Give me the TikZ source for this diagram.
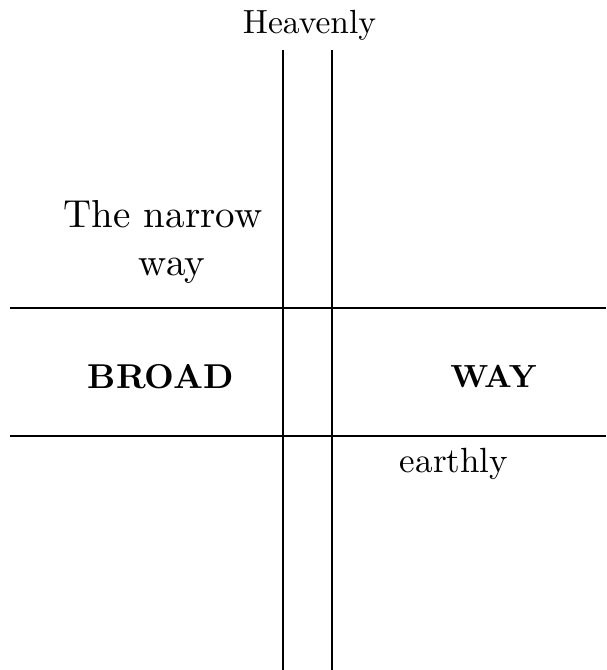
\documentclass[tikz,border=0pt]{standalone}
\usepackage{fontspec}
\setmainfont{lmroman10-regular.otf}[BoldFont=lmroman10-bold.otf]
\begin{document}
\begin{tikzpicture}[x=1pt,y=1pt,
  rule/.style={line width=2pt,black},
  lbl/.style={inner sep=0pt,anchor=base,font=\fontsize{#1}{#1}\selectfont},
  boldlbl/.style={inner sep=0pt,anchor=base,font=\fontsize{#1}{#1}\selectfont\bfseries}]
\useasboundingbox (0,0) rectangle (606,-670);
% vertical (narrow way) lines
\coordinate (v1t) at (283,-50);   \coordinate (v1b) at (283,-670);
\coordinate (v2t) at (331.5,-50); \coordinate (v2b) at (331.5,-670);
% horizontal (broad way) lines
\coordinate (h1l) at (10,-307.5); \coordinate (h1r) at (606,-307.5);
\coordinate (h2l) at (10,-436);   \coordinate (h2r) at (606,-436);
\draw[rule] (v1t) -- (v1b);
\draw[rule] (v2t) -- (v2b);
\draw[rule] (h1l) -- (h1r);
\draw[rule] (h2l) -- (h2r);
% labels
\node[lbl=33.5] (heav) at (309.5,-33) {Heavenly};
\node[lbl=39] (nar1) at (163,-227) {The narrow};
\node[lbl=39] (nar2) at (172,-275) {way};
\node[boldlbl=34.5] (broad) at (161,-388) {BROAD};
\node[boldlbl=32] (way) at (493.5,-387) {WAY};
\node[lbl=35] (earth) at (454,-472) {earthly};
\end{tikzpicture}
\end{document}
